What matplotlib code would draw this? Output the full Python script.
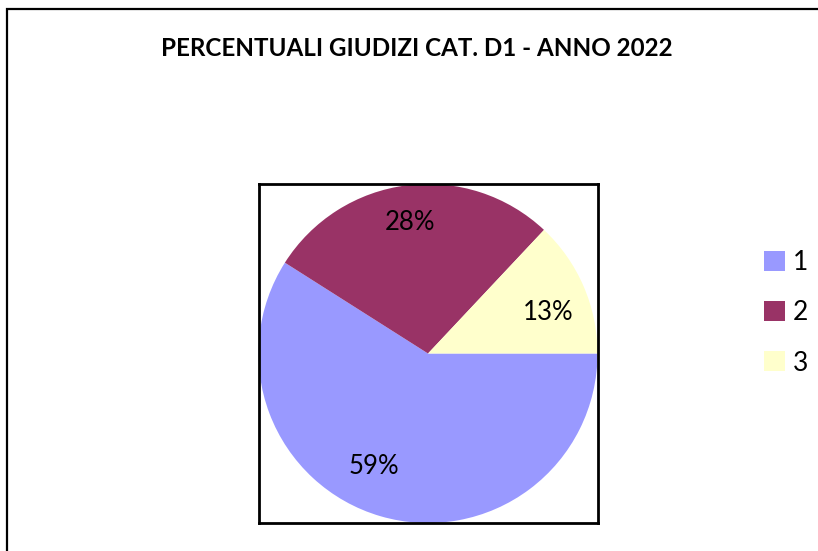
import matplotlib
matplotlib.use("Agg")
import matplotlib.pyplot as plt
import numpy as np
from matplotlib.patches import Rectangle, Patch

# data
labels = ["1", "2", "3"]
values = [59, 28, 13]
colors = ["#9999ff", "#993366", "#ffffcc"]
title = "PERCENTUALI GIUDIZI CAT. D1 - ANNO 2022"
# Excel-style label placement (angle deg, radius fraction) per slice
label_polar = [(244.6, 0.74), (98.0, 0.78), (19.0, 0.75)]

plt.rcParams["font.family"] = ["Lato", "DejaVu Sans"]

fig = plt.figure(figsize=(8.18, 5.51), dpi=100)
fig.patch.set_facecolor("white")

# chart-area border (only top/left edges are inside the picture)
fig.patches.append(Rectangle((7 / 818, -0.05), 1.2, 1.05 - 9 / 551,
                             transform=fig.transFigure, fill=False,
                             edgecolor="black", lw=1.6, zorder=0))

fig.text(417 / 818, 1 - 49 / 551, title, ha="center", va="center",
         fontsize=17.4, fontweight="bold")

ax = fig.add_axes([258 / 818, 28 / 551, 340 / 818, 339 / 551])
wedges, texts, autotexts = ax.pie(
    values, colors=colors, startangle=0, counterclock=False,
    autopct="%1.0f%%", pctdistance=0.76, radius=1.0, frame=True,
    textprops={"fontsize": 18.5, "color": "black"})
for t, (ang, r) in zip(autotexts, label_polar):
    a = np.deg2rad(ang)
    t.set_position((r * np.cos(a), r * np.sin(a)))
ax.set_xlim(-1, 1); ax.set_ylim(-1, 1)
ax.set_xticks([]); ax.set_yticks([])
for sp in ax.spines.values():
    sp.set_visible(True); sp.set_linewidth(2); sp.set_color("black")

handles = [Patch(facecolor=c, edgecolor="none") for c in colors]
fig.legend(handles, labels, loc="center left", bbox_to_anchor=(764 / 818, 1 - 313 / 551),
           frameon=False, fontsize=19, handlelength=0.8, handleheight=0.8,
           handletextpad=0.3, labelspacing=0.95, borderpad=0, borderaxespad=0)

fig.savefig("out.png", dpi=100, facecolor="white")
